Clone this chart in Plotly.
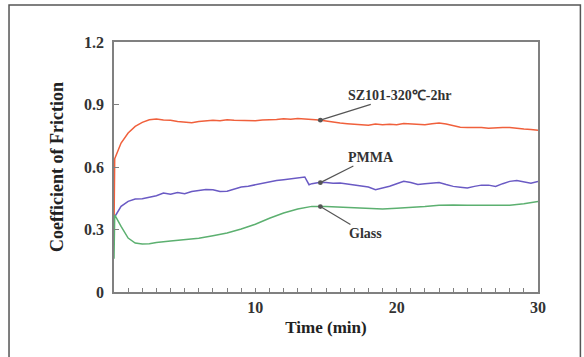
import plotly.graph_objects as go

# Time (min)
t_sz = [0, 0.05, 0.5, 1, 1.5, 2, 2.5, 3, 3.5, 4, 4.5, 5, 5.5, 6, 6.5, 7, 7.5, 8, 8.5, 9, 9.5, 10,
        10.5, 11, 11.5, 12, 12.5, 13, 13.5, 14, 14.5, 15, 15.5, 16, 16.5, 17, 17.5, 18, 18.5, 19,
        19.5, 20, 20.5, 21, 21.5, 22, 22.5, 23, 23.5, 24, 24.5, 25, 25.5, 26, 26.5, 27, 27.5, 28,
        28.5, 29, 29.5, 30]
sz_cof = [0.30, 0.64, 0.715, 0.763, 0.795, 0.814, 0.827, 0.830, 0.826, 0.824, 0.818, 0.814, 0.812, 0.818,
          0.820, 0.824, 0.822, 0.827, 0.825, 0.824, 0.826, 0.822, 0.826, 0.826, 0.828, 0.832, 0.829, 0.833,
          0.831, 0.829, 0.826, 0.821, 0.815, 0.811, 0.808, 0.805, 0.802, 0.800, 0.806, 0.803, 0.805, 0.803,
          0.809, 0.808, 0.804, 0.803, 0.808, 0.811, 0.806, 0.800, 0.791, 0.789, 0.791, 0.790, 0.786, 0.786,
          0.789, 0.790, 0.785, 0.782, 0.780, 0.776]

t_pm = [0, 0.5, 1, 1.5, 2, 2.5, 3, 3.5, 4, 4.5, 5, 5.5, 6, 6.5, 7, 7.5, 8, 8.5, 9, 9.5, 10, 10.5, 11,
        11.5, 12, 12.5, 13, 13.5, 13.8, 14, 14.5, 15, 15.5, 16, 16.5, 17, 17.5, 18, 18.5, 19, 19.5, 20,
        20.5, 21, 21.5, 22, 22.5, 23, 23.5, 24, 24.5, 25, 25.5, 26, 26.5, 27, 27.5, 28, 28.5, 29, 29.5, 30]
pm_cof = [0.355, 0.411, 0.435, 0.446, 0.448, 0.454, 0.462, 0.475, 0.469, 0.478, 0.472, 0.482, 0.488, 0.492,
          0.491, 0.483, 0.484, 0.494, 0.504, 0.508, 0.515, 0.522, 0.531, 0.535, 0.539, 0.544, 0.549, 0.552,
          0.515, 0.520, 0.526, 0.526, 0.522, 0.523, 0.518, 0.514, 0.508, 0.504, 0.491, 0.498, 0.508, 0.520,
          0.531, 0.526, 0.516, 0.520, 0.522, 0.526, 0.516, 0.507, 0.503, 0.499, 0.507, 0.513, 0.513, 0.507,
          0.520, 0.531, 0.535, 0.529, 0.522, 0.531]

t_gl = [0, 0.05, 0.5, 1, 1.5, 2, 2.5, 3, 4, 5, 6, 7, 8, 9, 10, 11, 12, 13, 14, 15, 16, 17, 18, 19, 20,
        21, 22, 23, 24, 25, 26, 27, 28, 29, 30]
gl_cof = [0.16, 0.37, 0.315, 0.259, 0.235, 0.230, 0.232, 0.238, 0.245, 0.250, 0.258, 0.270, 0.283, 0.302,
          0.325, 0.354, 0.379, 0.398, 0.411, 0.411, 0.408, 0.405, 0.402, 0.398, 0.402, 0.405, 0.410, 0.416,
          0.418, 0.416, 0.415, 0.415, 0.416, 0.424, 0.435]

labels = ["SZ101-320℃-2hr", "PMMA", "Glass"]
point_t = [14.6, 14.6, 14.6]
point_v = [0.825, 0.525, 0.410]
text_t = [20.2, 18.2, 17.8]
text_v = [0.944, 0.648, 0.281]

font_family = "Liberation Serif, Times New Roman, serif"

fig = go.Figure()
fig.add_trace(go.Scatter(x=t_sz, y=sz_cof, mode="lines", line=dict(color="#f0603c", width=1.5), name=labels[0]))
fig.add_trace(go.Scatter(x=t_pm, y=pm_cof, mode="lines", line=dict(color="#6a5ac4", width=1.5), name=labels[1]))
fig.add_trace(go.Scatter(x=t_gl, y=gl_cof, mode="lines", line=dict(color="#5cb070", width=1.5), name=labels[2]))

for lab, px, py, tx, ty in zip(labels, point_t, point_v, text_t, text_v):
    fig.add_annotation(x=px, y=py, ax=tx, ay=ty, axref="x", ayref="y", xref="x", yref="y",
                       text="<b>" + lab + "</b>", showarrow=True, arrowhead=6, arrowsize=1,
                       arrowwidth=1.2, arrowcolor="#555555",
                       font=dict(family=font_family, size=14, color="#333333"))

fig.add_shape(type="rect", xref="paper", yref="paper", x0=-0.2476, x1=1.100, y0=-0.30, y1=1.148,
              line=dict(color="#555555", width=1.5), fillcolor="rgba(0,0,0,0)", layer="below")

fig.update_layout(
    width=584, height=357,
    margin=dict(l=114, r=46, t=42, b=65),
    paper_bgcolor="white", plot_bgcolor="white",
    showlegend=False,
    font=dict(family=font_family, color="#333333"),
)
fig.update_xaxes(range=[0, 30], dtick=10, tick0=0, showgrid=False, zeroline=False,
                 showline=True, linecolor="#808080", linewidth=1.5, mirror=True,
                 ticks="inside", ticklen=4, tickcolor="#808080",
                 minor=dict(dtick=1, ticks="inside", ticklen=4, tickcolor="#808080"),
                 tickvals=[10, 20, 30], ticktext=["<b>10</b>", "<b>20</b>", "<b>30</b>"],
                 tickfont=dict(family=font_family, size=16, color="#333333"),
                 title=dict(text="<b>Time (min)</b>", font=dict(family=font_family, size=17, color="#222222"),
                            standoff=6))
fig.update_yaxes(range=[0, 1.2], showgrid=False, zeroline=False,
                 showline=True, linecolor="#808080", linewidth=1.5, mirror=True,
                 ticks="inside", ticklen=5, tickcolor="#808080",
                 tickvals=[0, 0.3, 0.6, 0.9, 1.2], ticktext=["<b>0</b>", "<b>0.3</b>", "<b>0.6</b>", "<b>0.9</b>", "<b>1.2</b>"],
                 tickfont=dict(family=font_family, size=16, color="#333333"),
                 ticklabelstandoff=5,
                 title=dict(text="<b>Coefficient of Friction</b>", font=dict(family=font_family, size=18, color="#222222"),
                            standoff=16))

fig.write_html("out.html")
